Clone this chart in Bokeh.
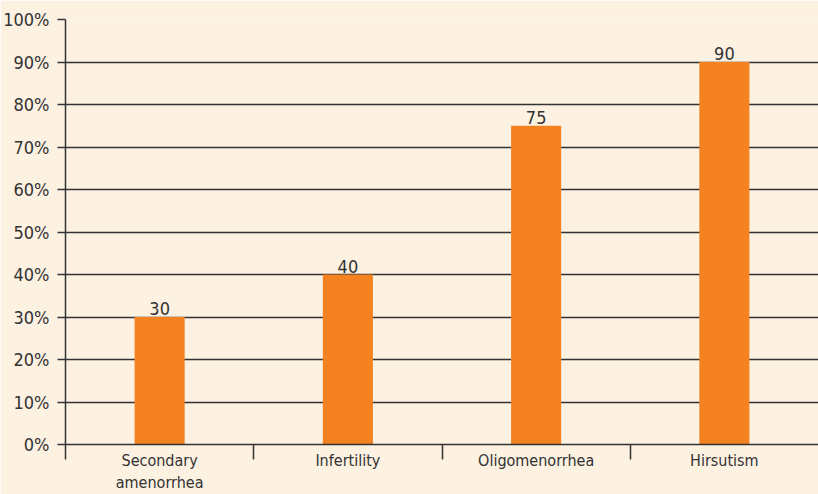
from bokeh.plotting import figure
from bokeh.models import (Range1d, LinearAxis, FixedTicker,
                          PrintfTickFormatter, ColumnDataSource)
from bokeh.core.properties import value
from bokeh.embed import file_html
from bokeh.resources import INLINE

categories = ["Secondary amenorrhea", "Infertility", "Oligomenorrhea", "Hirsutism"]
axis_labels = ["Secondary\namenorrhea", "Infertility", "Oligomenorrhea", "Hirsutism"]
percent = [30, 40, 75, 90]
y_ticks = [0, 10, 20, 30, 40, 50, 60, 70, 80, 90, 100]

FONT = "'DejaVu Sans Condensed', sans-serif"
FS = "18px"
BG = "#FDF1E2"
BAR = "#F58220"
INK = "#333333"

n = len(categories)
centers = [i + 0.5 for i in range(n)]      # category slot centres
bounds = list(range(n))                     # category slot boundaries

src = ColumnDataSource(dict(x=centers, val=percent,
                            lab=[str(v) for v in percent]))

p = figure(frame_width=753, frame_height=425, x_range=Range1d(0, n),
           y_range=Range1d(0, 100), output_backend="svg", toolbar_location=None,
           background_fill_color=BG, border_fill_color=BG,
           min_border_left=65, min_border_right=0, min_border_top=19, min_border_bottom=30)
p.outline_line_color = None
p.xaxis.visible = False
p.xgrid.visible = False

p.vbar(x="x", top="val", width=0.266, source=src, color=BAR, line_color=None)
p.text(x="x", y="val", text="lab", source=src, text_align="center",
       text_baseline="bottom", y_offset=-2, text_font=value(FONT),
       text_font_size=FS, text_color=INK)

# y axis
ya = p.yaxis[0]
ya.ticker = FixedTicker(ticks=y_ticks)
ya.formatter = PrintfTickFormatter(format="%d%%")
ya.major_tick_out = 8
ya.major_tick_in = 0
ya.minor_tick_out = 0
ya.minor_tick_in = 0
ya.axis_line_color = INK
ya.axis_line_width = 1.5
ya.major_tick_line_color = INK
ya.major_tick_line_width = 1.5
ya.major_label_text_font = FONT
ya.major_label_text_font_size = FS
ya.major_label_text_color = INK
ya.major_label_standoff = 8

p.ygrid.ticker = FixedTicker(ticks=y_ticks)
p.ygrid.grid_line_color = INK
p.ygrid.grid_line_width = 1.5

# x axis: labels at category centres, separator ticks at boundaries
xa = LinearAxis(ticker=FixedTicker(ticks=centers, minor_ticks=bounds))
xa.major_label_overrides = {c: lab for c, lab in zip(centers, axis_labels)}
xa.major_tick_out = 0
xa.major_tick_in = 0
xa.minor_tick_out = 15
xa.minor_tick_in = 0
xa.minor_tick_line_color = INK
xa.minor_tick_line_width = 1.5
xa.axis_line_color = INK
xa.axis_line_width = 1.5
xa.major_label_standoff = -9
xa.major_label_text_font = FONT
xa.major_label_text_font_size = "16px"
xa.major_label_text_color = INK
p.add_layout(xa, "below")

open("out.html", "w").write(file_html(p, INLINE))
